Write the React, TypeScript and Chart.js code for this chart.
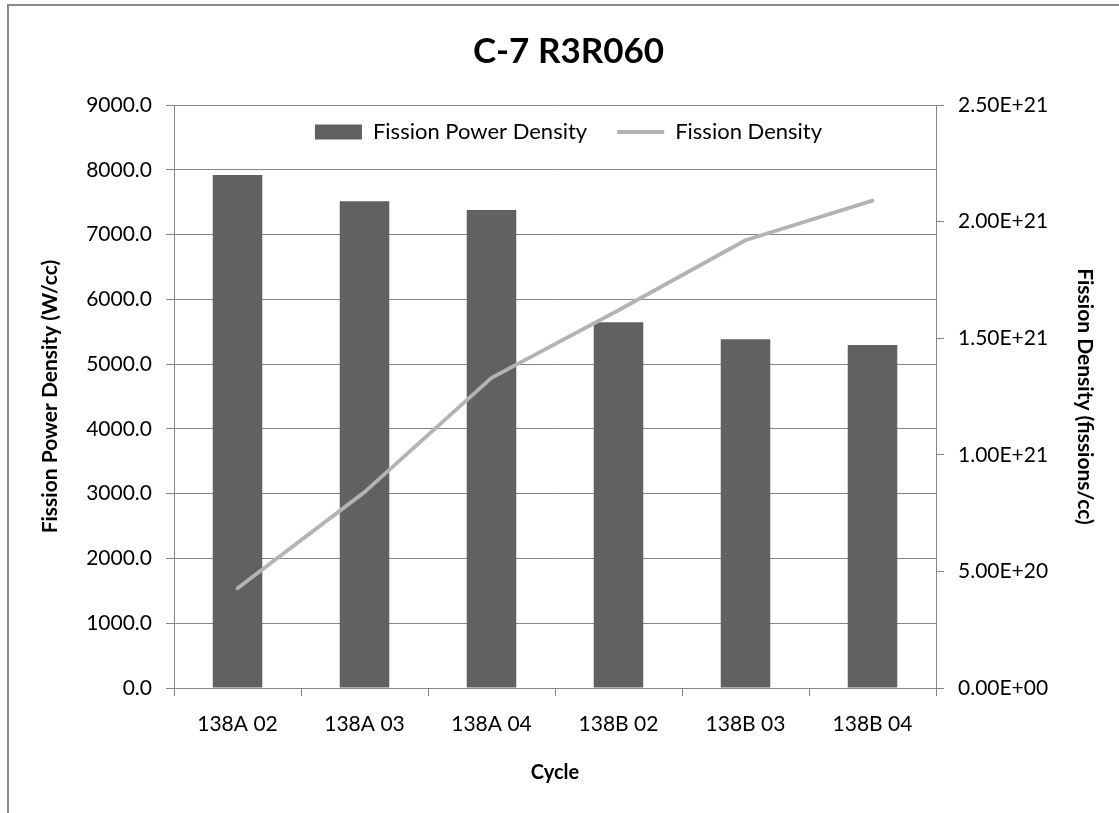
import { useEffect, useRef } from 'react';
import { Chart, registerables } from 'chart.js';

Chart.register(...registerables);

// Irradiation cycles and per-cycle results
const cycles = ['138A 02', '138A 03', '138A 04', '138B 02', '138B 03', '138B 04'];
const powerDensity = [7920, 7515, 7380, 5645, 5385, 5295]; // W/cc
const fissionDensity = [4.28e20, 8.4e20, 1.33e21, 1.62e21, 1.92e21, 2.09e21]; // fissions/cc

const powerAxis = { min: 0, max: 9000, step: 1000 };
const densityAxis = { min: 0, max: 2.5e21, step: 5e20 };

const FONT = 'Lato, "Open Sans", sans-serif';
const BAR_COLOR = '#616161';
const LINE_COLOR = '#b3b3b3';
const GRID_COLOR = '#868686';
const TEXT_COLOR = '#000000';

const W = 1119;
const H = 813;
const PLOT = { left: 174, right: 936, top: 105, bottom: 688 };
const PAD_LEFT = 18;

// "2.50E+21" style labels
const expLabel = (v: number | string) => {
  const [m, e] = Number(v).toExponential(2).split('e');
  return `${m}E${e[0]}${e.slice(1).padStart(2, '0')}`;
};

// Let the legend sit inside the top of the plot area instead of above it
const legendInPlot = {
  id: 'legendInPlot',
  afterLayout(chart: any) {
    const lg = chart.legend;
    if (!lg) return;
    lg.height = 60;
    lg.bottom = lg.top + lg.height;
  },
};

export default function App() {
  const ref = useRef<HTMLCanvasElement>(null);

  useEffect(() => {
    const chart = new Chart(ref.current as HTMLCanvasElement, {
      type: 'bar',
      data: {
        labels: cycles,
        datasets: [
          {
            type: 'bar',
            label: 'Fission Power Density',
            data: powerDensity,
            backgroundColor: BAR_COLOR,
            yAxisID: 'y',
            order: 2,
            barPercentage: 0.39,
            categoryPercentage: 1,
          },
          {
            type: 'line',
            label: 'Fission Density',
            data: fissionDensity,
            borderColor: LINE_COLOR,
            backgroundColor: LINE_COLOR,
            borderWidth: 3.8,
            pointRadius: 0,
            borderCapStyle: 'round',
            borderJoinStyle: 'round',
            tension: 0,
            yAxisID: 'y1',
            order: 1,
          },
        ] as any,
      },
      options: {
        animation: false,
        responsive: false,
        maintainAspectRatio: false,
        layout: { padding: { left: PAD_LEFT, right: 0, top: 0, bottom: 0 } },
        plugins: {
          tooltip: { enabled: false },
          title: {
            display: true,
            text: 'C-7 R3R060',
            color: TEXT_COLOR,
            font: { family: FONT, size: 35, weight: 'bold' },
            padding: { top: 31, bottom: 18 },
          },
          legend: {
            display: true,
            position: 'top',
            maxHeight: 14,
            labels: {
              usePointStyle: true,
              pointStyleWidth: 47,
              boxHeight: 15,
              padding: 30,
              color: TEXT_COLOR,
              font: { family: FONT, size: 22 },
              generateLabels: (c: any) =>
                c.data.datasets.map((ds: any, i: number) => ({
                  text: ds.label,
                  datasetIndex: i,
                  hidden: false,
                  fillStyle: i === 0 ? BAR_COLOR : 'rgba(0,0,0,0)',
                  strokeStyle: i === 0 ? BAR_COLOR : LINE_COLOR,
                  lineWidth: i === 0 ? 0 : 3.8,
                  lineCap: 'butt',
                  pointStyle: i === 0 ? 'rect' : 'line',
                })),
            },
          },
        },
        scales: {
          x: {
            type: 'category',
            offset: true,
            grid: {
              display: true,
              offset: true,
              drawOnChartArea: false,
              drawTicks: true,
              tickLength: 8,
              color: GRID_COLOR,
            },
            border: { display: true, color: GRID_COLOR, width: 1 },
            ticks: {
              color: TEXT_COLOR,
              font: { family: FONT, size: 21 },
              padding: 16,
              maxRotation: 0,
              autoSkip: false,
            },
            title: {
              display: true,
              text: 'Cycle',
              color: TEXT_COLOR,
              font: { family: FONT, size: 20, weight: 'bold' },
              padding: { top: 0, bottom: 28 },
            },
            afterFit: (s: any) => {
              s.height = H - PLOT.bottom;
            },
          },
          y: {
            type: 'linear',
            position: 'left',
            min: powerAxis.min,
            max: powerAxis.max,
            grid: { color: GRID_COLOR, tickLength: 8, drawTicks: true },
            border: { display: true, color: GRID_COLOR, width: 1 },
            ticks: {
              stepSize: powerAxis.step,
              color: TEXT_COLOR,
              font: { family: FONT, size: 21 },
              padding: 14,
              callback: (v: any) => Number(v).toFixed(1),
            },
            title: {
              display: true,
              text: 'Fission Power Density (W/cc)',
              color: TEXT_COLOR,
              font: { family: FONT, size: 21, weight: 'bold' },
              padding: { top: 20, bottom: 0 },
            },
            afterFit: (s: any) => {
              s.width = PLOT.left - PAD_LEFT;
            },
          },
          y1: {
            type: 'linear',
            position: 'right',
            min: densityAxis.min,
            max: densityAxis.max,
            grid: { drawOnChartArea: false, tickLength: 8, drawTicks: true, color: GRID_COLOR },
            border: { display: true, color: GRID_COLOR, width: 1 },
            ticks: {
              stepSize: densityAxis.step,
              color: TEXT_COLOR,
              font: { family: FONT, size: 21 },
              padding: 14,
              callback: (v: any) => expLabel(v),
            },
            title: {
              display: true,
              text: 'Fission Density (fissions/cc)',
              color: TEXT_COLOR,
              font: { family: FONT, size: 21, weight: 'bold' },
              padding: { top: 22, bottom: 0 },
            },
            afterFit: (s: any) => {
              s.width = W - PLOT.right;
            },
          },
        },
      } as any,
      plugins: [legendInPlot],
    });
    return () => chart.destroy();
  }, []);

  return (
    <div
      style={{
        position: 'absolute',
        left: 0,
        top: 0,
        width: W,
        height: H,
        overflow: 'hidden',
        background: '#ffffff',
      }}
    >
      <div
        style={{
          position: 'absolute',
          left: 7,
          top: 4,
          width: W + 20,
          height: H + 20,
          borderLeft: '2px solid #8a8a8a',
          borderTop: '2px solid #8a8a8a',
        }}
      />
      <canvas ref={ref} width={W} height={H} style={{ position: 'absolute', left: 0, top: 0 }} />
    </div>
  );
}
